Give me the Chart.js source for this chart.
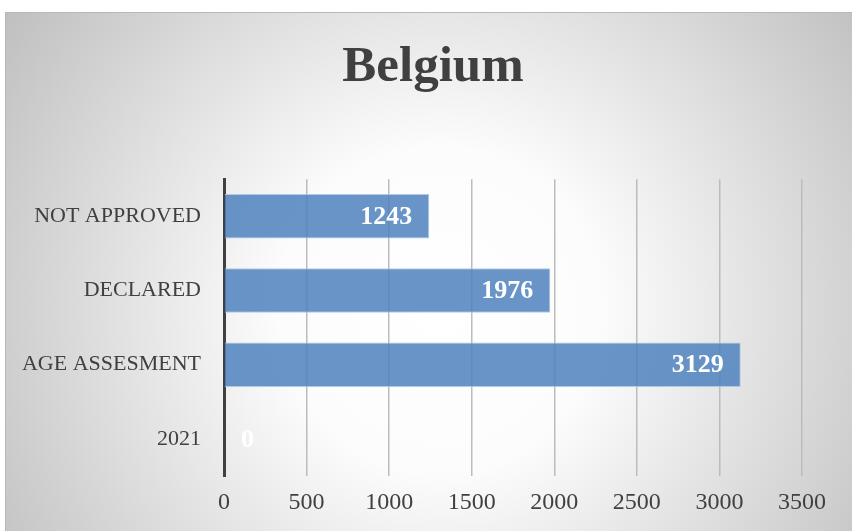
<!DOCTYPE html>
<html>
<head>
<meta charset="utf-8">
<title>Belgium</title>
<script src="https://cdn.jsdelivr.net/npm/chart.js@4/dist/chart.umd.min.js"></script>
<style>
  html, body { margin: 0; padding: 0; background: #ffffff; }
  #wrap { width: 852px; height: 531px; }
</style>
</head>
<body>
<div id="wrap"><canvas id="bars" width="852" height="531"></canvas></div>
<script>
// chart data
const categories = ['NOT APPROVED', 'DECLARED', 'AGE ASSESMENT', '2021'];
const counts = [1243, 1976, 3129, 0];
const tickStep = 500;
const axisMax = 3500;

const textColor = '#404040';
const serifFam = "'Liberation Serif', 'Times New Roman', serif";

// grey frame with a soft white glow in the middle
const backgroundPlugin = {
    id: 'frameBackground',
    beforeDraw(chart) {
        const ctx = chart.ctx;
        ctx.save();
        ctx.fillStyle = '#ffffff';
        ctx.fillRect(0, 0, chart.width, chart.height);
        const g = ctx.createRadialGradient(440, 310, 0, 440, 310, 540);
        g.addColorStop(0, '#ffffff');
        g.addColorStop(0.3, '#fcfcfc');
        g.addColorStop(1, '#bdbdbd');
        ctx.fillStyle = g;
        ctx.fillRect(5, 12, chart.width - 5, chart.height - 12);
        ctx.strokeStyle = '#b8b8b8';
        ctx.lineWidth = 1;
        ctx.beginPath();
        ctx.moveTo(5.5, chart.height);
        ctx.lineTo(5.5, 12.5);
        ctx.lineTo(chart.width, 12.5);
        ctx.stroke();
        ctx.restore();
    }
};

// white value labels at the inside end of each bar
const valueLabels = {
    id: 'valueLabels',
    afterDatasetsDraw(chart) {
        const ctx = chart.ctx;
        const meta = chart.getDatasetMeta(0);
        ctx.save();
        ctx.font = "bold 26px " + serifFam;
        ctx.fillStyle = '#ffffff';
        ctx.textBaseline = 'middle';
        meta.data.forEach((bar, i) => {
            const txt = String(counts[i]);
            const w = ctx.measureText(txt).width;
            if (bar.x - bar.base > w + 34) {
                ctx.textAlign = 'right';
                ctx.fillText(txt, bar.x - 17, bar.y + 1);
            } else {
                ctx.textAlign = 'left';
                ctx.fillText(txt, bar.base + 17, bar.y + 1);
            }
        });
        ctx.restore();
    }
};

const ctx = document.getElementById('bars');
new Chart(ctx, {
    type: 'bar',
    data: {
        labels: categories,
        datasets: [{
            data: counts,
            backgroundColor: 'rgba(79, 129, 189, 0.85)',
            borderColor: 'rgba(170, 196, 228, 0.9)',
            borderWidth: 1,
            categoryPercentage: 1,
            barPercentage: 0.6
        }]
    },
    options: {
        indexAxis: 'y',
        responsive: false,
        animation: false,
        layout: {
            // slightly negative right padding so the title sits where the original has it
            padding: { top: 12, left: 5, right: -9, bottom: 0 }
        },
        plugins: {
            legend: { display: false },
            tooltip: { enabled: false },
            title: {
                display: true,
                text: 'Belgium',
                color: textColor,
                font: { family: serifFam, size: 51, weight: 'bold', lineHeight: 1.2 },
                padding: { top: 25, bottom: 81 }
            }
        },
        scales: {
            x: {
                min: 0,
                max: axisMax,
                ticks: {
                    stepSize: tickStep,
                    color: textColor,
                    font: { family: serifFam, size: 24 },
                    padding: 12,
                    callback: (v) => String(v)
                },
                grid: {
                    color: '#bcbcbc',
                    lineWidth: 1.5,
                    drawTicks: false
                },
                border: { display: false },
                afterFit(scale) { scale.height = 55; }
            },
            y: {
                ticks: {
                    color: textColor,
                    font: { family: serifFam, size: 22 },
                    padding: 15
                },
                grid: { display: false },
                border: { display: true, color: '#404040', width: 3 },
                afterFit(scale) { scale.width = 219; }
            },
            // empty spacer on the right of the plot
            spacer: {
                type: 'linear',
                axis: 'y',
                position: 'right',
                ticks: { display: false },
                grid: { display: false },
                border: { display: false },
                afterFit(scale) { scale.width = 59; }
            }
        }
    },
    plugins: [backgroundPlugin, valueLabels]
});
</script>
</body>
</html>
